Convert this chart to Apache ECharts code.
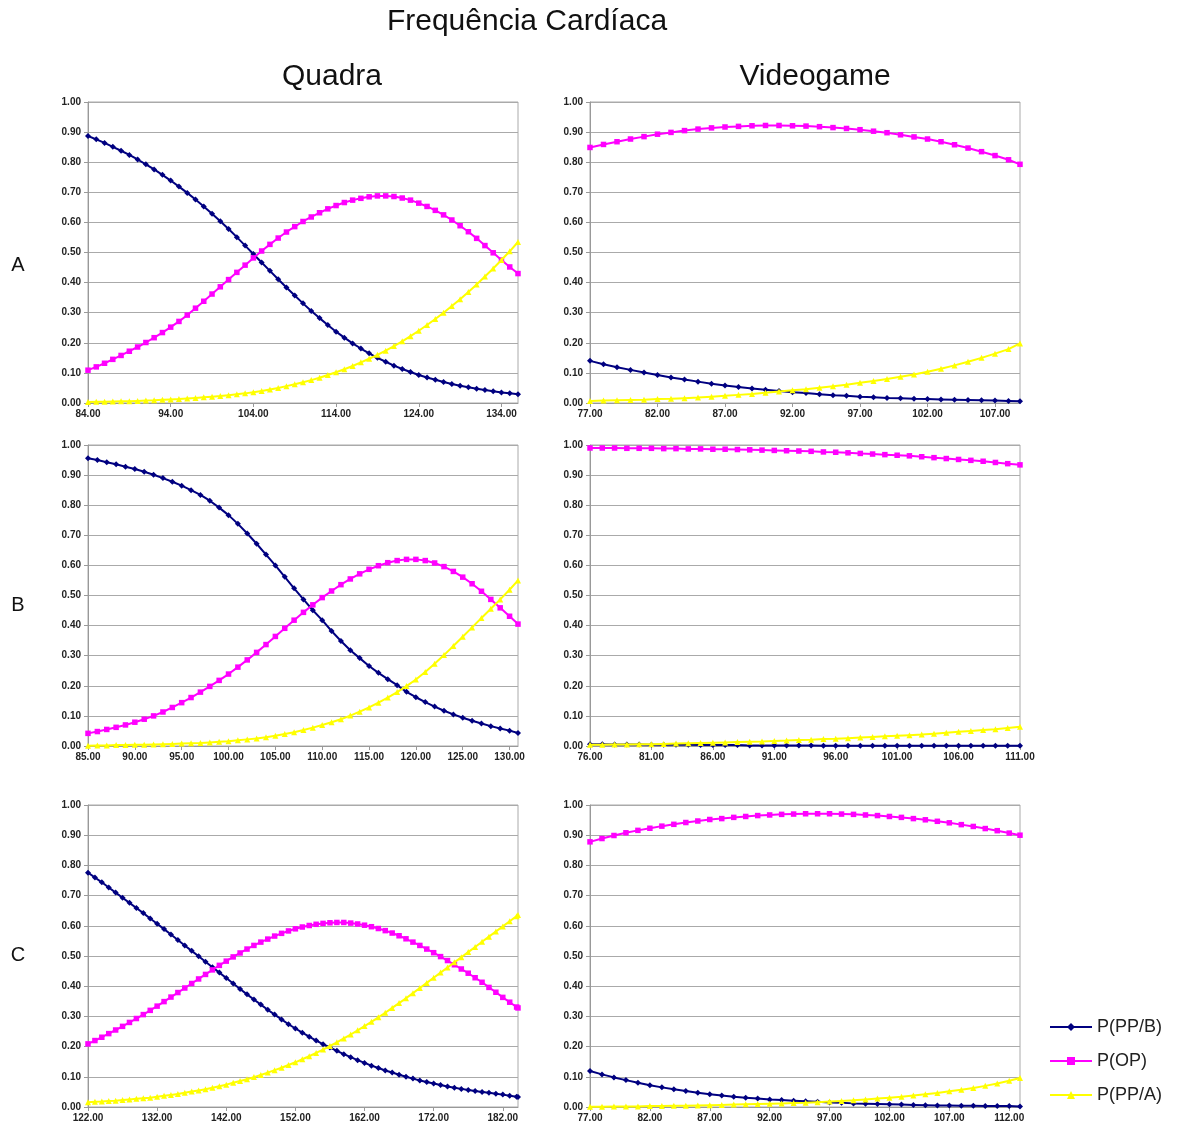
<!DOCTYPE html>
<html><head><meta charset="utf-8">
<script src="https://cdn.jsdelivr.net/npm/echarts@6/dist/echarts.min.js"></script>
<style>html,body{margin:0;padding:0;background:#fff}#c{width:1184px;height:1126px}</style>
</head><body><div id="c"></div>
<script>
// ---------- DATA ----------
const seriesNames = ['P(PP/B)', 'P(OP)', 'P(PP/A)'];
const rowLabels = ['A', 'B', 'C'];
const colLabels = ['Quadra', 'Videogame'];
const mainTitle = 'Frequência Cardíaca';

// Row A - Quadra
const xQA = [84,85,86,87,88,89,90,91,92,93,94,95,96,97,98,99,100,101,102,103,104,105,106,107,108,109,110,111,112,113,114,115,116,117,118,119,120,121,122,123,124,125,126,127,128,129,130,131,132,133,134,135,136];
const bQA = [.887,.876,.864,.851,.838,.824,.809,.793,.776,.758,.739,.719,.698,.676,.653,.629,.604,.578,.551,.523,.495,.467,.439,.411,.384,.357,.331,.306,.282,.259,.237,.217,.198,.181,.165,.150,.137,.124,.113,.103,.093,.085,.077,.070,.063,.057,.052,.047,.043,.039,.035,.032,.029];
const mQA = [.109,.120,.132,.145,.158,.172,.186,.201,.217,.234,.252,.271,.292,.315,.338,.362,.386,.410,.434,.458,.482,.505,.527,.548,.568,.586,.603,.618,.632,.645,.656,.666,.674,.680,.685,.688,.688,.686,.681,.674,.664,.653,.640,.625,.608,.589,.569,.547,.523,.499,.475,.452,.430];
const yQA = [.003,.004,.004,.005,.006,.006,.007,.008,.009,.011,.012,.013,.015,.017,.019,.021,.023,.026,.029,.032,.036,.040,.045,.050,.056,.062,.069,.076,.084,.093,.102,.112,.123,.135,.147,.160,.174,.189,.205,.222,.240,.259,.279,.300,.322,.345,.369,.394,.420,.447,.475,.504,.535];
const ticksQA = [84,94,104,114,124,134];

// Row A - Videogame
const xVA = [77,78,79,80,81,82,83,84,85,86,87,88,89,90,91,92,93,94,95,96,97,98,99,100,101,102,103,104,105,106,107,108,108.85];
const bVA = [.140,.129,.119,.110,.101,.093,.085,.078,.071,.064,.058,.053,.048,.044,.040,.036,.033,.029,.026,.024,.021,.019,.017,.016,.014,.013,.012,.011,.010,.009,.008,.007,.006];
const mVA = [.849,.859,.868,.877,.885,.893,.899,.905,.910,.914,.917,.919,.921,.922,.922,.921,.920,.918,.915,.912,.908,.903,.898,.891,.884,.877,.868,.858,.847,.835,.822,.808,.793];
const yVA = [.007,.008,.009,.010,.011,.013,.014,.016,.018,.021,.024,.027,.030,.034,.038,.042,.046,.051,.056,.061,.067,.073,.080,.087,.095,.104,.114,.125,.137,.150,.164,.179,.198];
const ticksVA = [77,82,87,92,97,102,107];

// Row B - Quadra
const xQB = [85,86,87,88,89,90,91,92,93,94,95,96,97,98,99,100,101,102,103,104,105,106,107,108,109,110,111,112,113,114,115,116,117,118,119,120,121,122,123,124,125,126,127,128,129,130,130.9];
const bQB = [.956,.950,.943,.936,.928,.920,.911,.901,.890,.878,.865,.850,.834,.815,.792,.767,.738,.706,.672,.636,.600,.562,.524,.487,.451,.418,.382,.349,.318,.292,.266,.243,.222,.202,.180,.162,.146,.131,.117,.105,.094,.084,.075,.066,.058,.051,.043];
const mQB = [.042,.048,.055,.062,.070,.079,.089,.100,.113,.128,.144,.161,.179,.198,.218,.239,.262,.286,.311,.337,.364,.391,.418,.444,.469,.493,.515,.536,.555,.572,.587,.599,.609,.616,.620,.620,.616,.608,.596,.580,.561,.539,.514,.487,.459,.431,.405];
const yQB = [.001,.002,.002,.003,.003,.004,.004,.005,.006,.007,.008,.009,.010,.012,.014,.016,.019,.022,.025,.029,.034,.040,.046,.053,.061,.070,.079,.089,.101,.114,.128,.144,.161,.179,.199,.221,.246,.273,.302,.332,.363,.394,.425,.456,.487,.519,.550];
const ticksQB = [85,90,95,100,105,110,115,120,125,130];

// Row B - Videogame
const xVB = [76,77,78,79,80,81,82,83,84,85,86,87,88,89,90,91,92,93,94,95,96,97,98,99,100,101,102,103,104,105,106,107,108,109,110,111];
const bVB = [.006,.006,.005,.005,.005,.004,.004,.004,.004,.003,.003,.003,.003,.002,.002,.002,.002,.002,.002,.001,.001,.001,.001,.001,.001,.001,.001,.001,.001,.001,.001,.001,.001,.001,.001,.001];
const mVB = [.990,.990,.990,.989,.989,.989,.988,.988,.987,.987,.986,.986,.985,.984,.983,.982,.981,.980,.979,.977,.976,.974,.972,.970,.968,.966,.964,.961,.958,.955,.952,.949,.946,.942,.938,.934];
const yVB = [.004,.004,.005,.005,.006,.006,.007,.008,.009,.010,.011,.012,.013,.014,.015,.017,.018,.020,.021,.023,.024,.026,.028,.030,.032,.034,.036,.038,.041,.044,.047,.050,.053,.056,.060,.064];
const ticksVB = [76,81,86,91,96,101,106,111];

// Row C - Quadra
const xQC = [122,123,124,125,126,127,128,129,130,131,132,133,134,135,136,137,138,139,140,141,142,143,144,145,146,147,148,149,150,151,152,153,154,155,156,157,158,159,160,161,162,163,164,165,166,167,168,169,170,171,172,173,174,175,176,177,178,179,180,181,182,183,184,184.2];
const bQC = [.776,.760,.744,.727,.710,.693,.676,.659,.642,.624,.607,.589,.571,.553,.535,.517,.499,.481,.463,.445,.427,.409,.391,.373,.356,.339,.322,.306,.290,.274,.260,.246,.233,.220,.208,.197,.186,.175,.165,.155,.146,.137,.129,.121,.114,.107,.100,.094,.088,.083,.078,.073,.068,.064,.060,.056,.053,.050,.047,.044,.041,.037,.034,.033];
const mQC = [.209,.220,.231,.243,.255,.267,.280,.293,.306,.320,.334,.349,.364,.379,.394,.409,.424,.439,.454,.469,.483,.497,.510,.523,.535,.546,.556,.566,.575,.583,.590,.596,.601,.605,.608,.610,.611,.611,.609,.606,.602,.597,.591,.584,.576,.567,.557,.546,.535,.523,.511,.498,.485,.471,.457,.443,.428,.413,.396,.380,.363,.347,.331,.328];
const yQC = [.016,.017,.018,.020,.021,.023,.025,.027,.029,.031,.034,.037,.040,.043,.047,.051,.055,.059,.064,.069,.074,.080,.086,.092,.099,.106,.114,.122,.130,.139,.148,.158,.168,.179,.190,.202,.214,.227,.240,.254,.268,.282,.297,.312,.328,.344,.360,.377,.394,.411,.428,.445,.462,.479,.496,.513,.530,.547,.564,.581,.598,.615,.632,.636];
const ticksQC = [122,132,142,152,162,172,182];

// Row C - Videogame
const xVC = [77,78,79,80,81,82,83,84,85,86,87,88,89,90,91,92,93,94,95,96,97,98,99,100,101,102,103,104,105,106,107,108,109,110,111,112,112.9];
const bVC = [.119,.108,.098,.089,.080,.072,.065,.059,.053,.047,.042,.038,.034,.031,.028,.025,.023,.021,.019,.017,.015,.014,.012,.011,.010,.009,.008,.007,.006,.005,.005,.004,.004,.003,.003,.003,.002];
const mVC = [.878,.889,.899,.908,.916,.923,.930,.936,.942,.947,.952,.955,.959,.962,.965,.967,.969,.970,.971,.971,.971,.970,.969,.967,.965,.962,.959,.955,.951,.946,.941,.935,.929,.922,.915,.907,.900];
const yVC = [.001,.001,.002,.002,.002,.003,.003,.004,.004,.005,.006,.007,.008,.009,.010,.011,.012,.013,.014,.016,.018,.020,.022,.025,.028,.031,.034,.038,.042,.046,.052,.057,.063,.070,.078,.087,.096];
const ticksVC = [77,82,87,92,97,102,107,112];

// ---------- LAYOUT ----------
const panels = [
  {x:xQA, s:[bQA,mQA,yQA], ticks:ticksQA, left:88,  top:102, height:301},
  {x:xVA, s:[bVA,mVA,yVA], ticks:ticksVA, left:590, top:102, height:301},
  {x:xQB, s:[bQB,mQB,yQB], ticks:ticksQB, left:88,  top:445, height:301},
  {x:xVB, s:[bVB,mVB,yVB], ticks:ticksVB, left:590, top:445, height:301},
  {x:xQC, s:[bQC,mQC,yQC], ticks:ticksQC, left:88,  top:805, height:302},
  {x:xVC, s:[bVC,mVC,yVC], ticks:ticksVC, left:590, top:805, height:302}
];
const colors = ['#000080', '#FF00FF', '#FFFF00'];
const symbols = ['diamond', 'rect', 'triangle'];
const symSizes = [6, 5.5, 6];
const FONT = '"Liberation Sans", Arial, sans-serif';
const axisGray = '#999999';

const grid = [], xAxis = [], yAxis = [], series = [];
panels.forEach((p, i) => {
  grid.push({left:p.left, top:p.top, width:430, height:p.height, show:true,
    borderColor:'#aaaaaa', borderWidth:1, backgroundColor:'transparent'});
  xAxis.push({type:'value', gridIndex:i, min:p.x[0], max:p.x[p.x.length-1],
    splitLine:{show:false},
    axisLine:{onZero:false, lineStyle:{color:axisGray, width:1}},
    axisTick:{show:true, customValues:p.ticks, length:4, lineStyle:{color:axisGray}},
    axisLabel:{customValues:p.ticks, formatter:v => Number(v).toFixed(2), fontSize:10,
      fontWeight:'bold', color:'#222', margin:6, fontFamily:FONT}
  });
  yAxis.push({type:'value', gridIndex:i, min:0, max:1, interval:0.1,
    axisLine:{show:true, lineStyle:{color:axisGray, width:1}},
    axisTick:{show:true, length:4, lineStyle:{color:axisGray}},
    splitLine:{show:true, lineStyle:{color:'#aaaaaa', width:1}},
    axisLabel:{formatter:v => Number(v).toFixed(2), fontSize:10, fontWeight:'bold',
      color:'#222', margin:7, fontFamily:FONT}
  });
  p.s.forEach((vals, k) => {
    series.push({type:'line', name:seriesNames[k], xAxisIndex:i, yAxisIndex:i,
      data:p.x.map((xv, j) => [xv, vals[j]]),
      symbol:symbols[k], symbolSize:symSizes[k], showSymbol:true,
      lineStyle:{color:colors[k], width:2},
      itemStyle:{color:colors[k], borderWidth:0},
      animation:false, silent:true, z:2+k});
  });
});

const textEls = [
  {text:mainTitle, x:527, y:22, size:30},
  {text:colLabels[0], x:332, y:77, size:30},
  {text:colLabels[1], x:815, y:77, size:30},
  {text:rowLabels[0], x:18, y:265, size:20},
  {text:rowLabels[1], x:18, y:605, size:20},
  {text:rowLabels[2], x:18, y:955, size:20}
];

const chart = echarts.init(document.getElementById('c'), null, {renderer:'canvas'});
chart.setOption({
  backgroundColor:'#ffffff',
  animation:false,
  grid, xAxis, yAxis, series,
  legend:{data:seriesNames, orient:'vertical', left:1044, top:1013,
    itemWidth:42, itemHeight:10, itemGap:16,
    textStyle:{fontSize:18, color:'#222', fontFamily:FONT}},
  graphic: textEls.map(t => ({type:'text', x:t.x, y:t.y,
    style:{text:t.text, x:0, y:0, align:'center', verticalAlign:'middle',
      font:'normal ' + t.size + 'px ' + FONT, fill:'#111'}}))
});
</script></body></html>
